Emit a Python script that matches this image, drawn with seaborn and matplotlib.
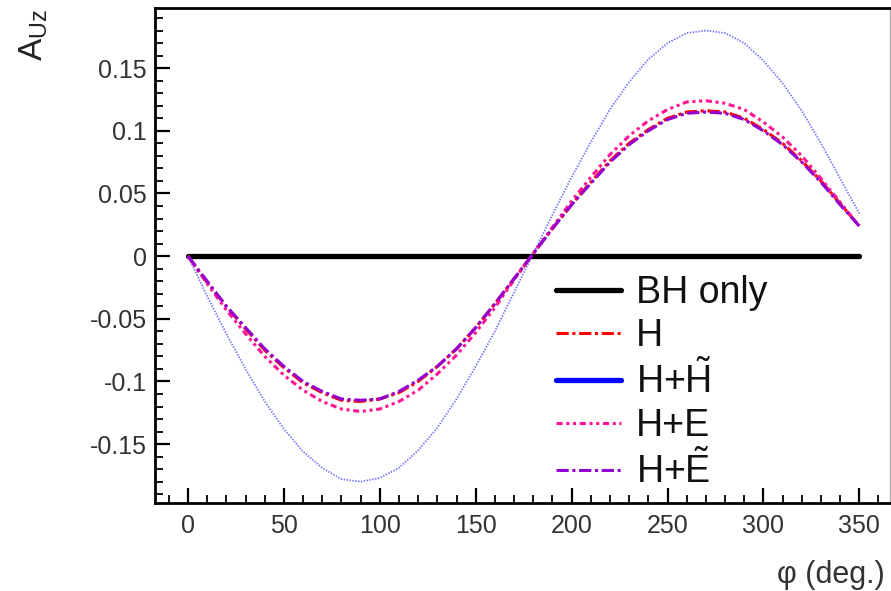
import numpy as np
import pandas as pd
import matplotlib
matplotlib.use("Agg")
import matplotlib.pyplot as plt
from matplotlib.lines import Line2D
import seaborn as sns

sns.set_style("white")
plt.rcParams['font.family'] = ['Liberation Sans', 'DejaVu Sans']
plt.rcParams['mathtext.fontset'] = 'custom'
plt.rcParams['mathtext.rm'] = 'Liberation Sans'
plt.rcParams['mathtext.it'] = 'Liberation Sans'

# ---- data ----
phi = [0, 10, 20, 30, 40, 50, 60, 70, 80, 90, 100, 110, 120, 130, 140, 150, 160, 170,
       180, 190, 200, 210, 220, 230, 240, 250, 260, 270, 280, 290, 300, 310, 320, 330, 340, 350]
bh_only = [0.0] * 36
h_only = [0, -0.021, -0.040, -0.058, -0.075, -0.089, -0.101, -0.109, -0.115, -0.116, -0.114, -0.109,
          -0.100, -0.088, -0.074, -0.057, -0.038, -0.018, 0.002, 0.022, 0.041, 0.059, 0.076, 0.090,
          0.101, 0.110, 0.115, 0.116, 0.115, 0.110, 0.101, 0.090, 0.076, 0.060, 0.042, 0.024]
h_htilde = [0, -0.032, -0.062, -0.090, -0.116, -0.138, -0.156, -0.169, -0.178, -0.180, -0.177, -0.169,
            -0.155, -0.137, -0.114, -0.088, -0.060, -0.029, 0.002, 0.033, 0.063, 0.091, 0.117, 0.139,
            0.157, 0.170, 0.178, 0.180, 0.178, 0.170, 0.156, 0.138, 0.116, 0.090, 0.062, 0.034]
h_e = [0, -0.022, -0.043, -0.062, -0.080, -0.095, -0.107, -0.116, -0.122, -0.124, -0.122, -0.116,
       -0.107, -0.094, -0.079, -0.061, -0.041, -0.019, 0.002, 0.023, 0.044, 0.063, 0.081, 0.096,
       0.108, 0.117, 0.123, 0.124, 0.122, 0.117, 0.107, 0.095, 0.080, 0.062, 0.043, 0.024]
h_etilde = [0, -0.020, -0.040, -0.057, -0.074, -0.088, -0.100, -0.108, -0.114, -0.115, -0.114, -0.108,
            -0.099, -0.088, -0.074, -0.057, -0.038, -0.018, 0.002, 0.022, 0.041, 0.058, 0.075, 0.089,
            0.100, 0.109, 0.114, 0.115, 0.114, 0.109, 0.100, 0.089, 0.075, 0.059, 0.041, 0.024]

labels = ['BH only', 'H', r'H+$\tilde{\mathrm{H}}$', 'H+E', r'H+$\tilde{\mathrm{E}}$']
series = [bh_only, h_only, h_htilde, h_e, h_etilde]
colors = ['#000000', '#ff0000', '#0000ff', '#ff1493', '#9400d3']
styles = ['-', (0, (4, 1.2, 1, 1.2)), (0, (0.8, 0.8)), (0, (2, 1.2, 1, 1.2, 1, 1.2)), (0, (4, 1.2, 1, 1.2))]
widths = [3.8, 2.2, 1.3, 2.2, 2.2]
alphas = [1, 1, 0.55, 1, 1]
x_ticks = [0, 50, 100, 150, 200, 250, 300, 350]
y_ticks = [-0.15, -0.1, -0.05, 0, 0.05, 0.1, 0.15]
y_ticklabels = ['-0.15', '-0.1', '-0.05', '0', '0.05', '0.1', '0.15']

fig = plt.figure(figsize=(8.91, 5.91), dpi=100)
ax = fig.add_axes([155 / 891, 1 - 503 / 591, 735 / 891, 495 / 591])

draw_order = [0, 2, 3, 1, 4]
for i in draw_order:
    sns.lineplot(x=phi, y=series[i], ax=ax, color=colors[i], linestyle=styles[i],
                 linewidth=widths[i], alpha=alphas[i], legend=False, zorder=3 + i)

ax.set_xlim(-17.2, 366)
ax.set_ylim(-0.197, 0.198)
ax.set_xticks(x_ticks)
ax.set_xticklabels([str(v) for v in x_ticks])
ax.set_yticks(y_ticks)
ax.set_yticklabels(y_ticklabels)
ax.set_xticks(np.arange(-10, 370, 10), minor=True)
ax.set_yticks(np.arange(-0.19, 0.20, 0.01), minor=True)
ax.tick_params(axis='both', which='both', bottom=True, left=True, top=False, right=False)
ax.tick_params(axis='both', which='major', direction='in', length=11, width=1.6, color='black',
               labelsize=18, labelcolor='#333333')
ax.tick_params(axis='both', which='minor', direction='in', length=6, width=1.3, color='black')
ax.tick_params(axis='x', pad=8)
ax.tick_params(axis='y', pad=6)
ax.set_xlabel('')
ax.set_ylabel('')

for s in ['left', 'bottom', 'top']:
    ax.spines[s].set_color('black')
    ax.spines[s].set_linewidth(2)
ax.spines['right'].set_color('#aaaaaa')
ax.spines['right'].set_linewidth(1)

handles = []
for i in range(5):
    ls = styles[i]
    lw = widths[i]
    if i == 2:
        ls = '-'
        lw = 3.8
    handles.append(Line2D([0], [0], color=colors[i], linestyle=ls, linewidth=lw if i != 0 else 3.8))
leg = ax.legend(handles, labels, loc='upper left', bbox_to_anchor=((556 - 155) / 735, (503 - 275) / 495),
                frameon=False, fontsize=27, handlelength=1.72, handletextpad=0.4, labelspacing=0.18,
                borderpad=0, borderaxespad=0)
for t in leg.get_texts():
    t.set_color('#111111')

fig.text(0.038, 0.985, r'$\mathrm{A_{Uz}}$', rotation=90, ha='center', va='top', fontsize=24, color='#222222')
fig.text(885 / 891, 1 - 575 / 591, 'φ (deg.)', ha='right', va='center', fontsize=22, color='#333333')

fig.savefig('out.png', dpi=100)
